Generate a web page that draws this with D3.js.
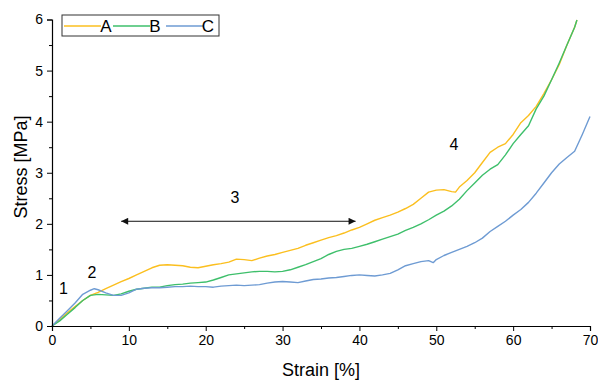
<!DOCTYPE html>
<html><head><meta charset="utf-8">
<script src="https://cdn.jsdelivr.net/npm/d3@7"></script>
<style>body{margin:0;background:#fff}svg{display:block;font-family:"Liberation Sans",Arial,sans-serif}</style>
</head><body><svg id="c" width="598" height="380"></svg>
<script>
const seriesNames = ["A","B","C"];
const seriesColors = ["#fbbf1f","#3ebf6b","#6e9bd3"];
const strainA = [0,1,2,3,4,5,6,7,8,9,10,11,12,13,14,15,16,17,18,19,20,21,22,23,24,25,26,27,28,29,30,31,32,33,34,35,36,37,38,39,40,41,42,43,44,45,46,47,48,49,50,51,52,52.5,53,54,55,56,57,58,59,60,61,62,63,64,65,66,67,68,68.3];
const stressA = [0,0.12,0.26,0.38,0.50,0.60,0.66,0.73,0.80,0.87,0.93,1.00,1.07,1.14,1.19,1.20,1.19,1.18,1.15,1.14,1.17,1.20,1.22,1.25,1.31,1.30,1.28,1.33,1.37,1.40,1.44,1.48,1.52,1.58,1.63,1.68,1.73,1.77,1.82,1.88,1.93,2.00,2.07,2.12,2.17,2.23,2.30,2.38,2.50,2.62,2.66,2.67,2.63,2.62,2.72,2.85,3.00,3.20,3.40,3.50,3.57,3.75,3.98,4.12,4.30,4.55,4.82,5.12,5.50,5.85,5.99];
const strainB = [0,1,2,3,4,5,6,7,8,9,10,11,12,13,14,15,16,17,18,19,20,21,22,23,24,25,26,27,28,29,30,31,32,33,34,35,36,37,38,39,40,41,42,43,44,45,46,47,48,49,50,51,52,53,54,55,56,57,58,59,60,61,62,63,64,65,66,67,68,68.3];
const stressB = [0,0.10,0.23,0.36,0.50,0.60,0.62,0.61,0.60,0.63,0.68,0.72,0.74,0.76,0.76,0.79,0.81,0.82,0.84,0.85,0.86,0.90,0.95,1.00,1.02,1.04,1.06,1.07,1.07,1.06,1.07,1.10,1.15,1.20,1.26,1.32,1.40,1.46,1.50,1.52,1.56,1.60,1.65,1.70,1.75,1.80,1.87,1.93,2.00,2.08,2.17,2.25,2.35,2.48,2.65,2.80,2.95,3.07,3.16,3.35,3.57,3.75,3.92,4.25,4.50,4.82,5.15,5.50,5.85,5.99];
const strainC = [0,1,2,3,4,5,5.5,6,7,8,9,10,11,12,13,14,15,16,17,18,19,20,21,22,23,24,25,26,27,28,29,30,31,32,33,34,35,36,37,38,39,40,41,42,43,44,45,46,47,48,49,49.6,50,51,52,53,54,55,56,57,58,59,60,61,62,63,64,65,66,67,68,69,70];
const stressC = [0,0.15,0.30,0.45,0.62,0.70,0.73,0.71,0.65,0.60,0.60,0.65,0.72,0.74,0.75,0.75,0.76,0.77,0.77,0.78,0.77,0.77,0.76,0.78,0.79,0.80,0.79,0.80,0.81,0.84,0.86,0.87,0.86,0.85,0.88,0.91,0.92,0.94,0.95,0.97,0.99,1.00,0.99,0.98,1.00,1.03,1.10,1.18,1.22,1.26,1.28,1.24,1.30,1.38,1.44,1.50,1.56,1.63,1.72,1.85,1.95,2.05,2.17,2.28,2.42,2.60,2.80,3.00,3.17,3.30,3.42,3.75,4.10];
const xTicks = [0,10,20,30,40,50,60,70];
const yTicks = [0,1,2,3,4,5,6];
const annLabels = ["1","2","3","4"];
const annX = [1.5,5.2,23.8,52.3];
const annY = [0.63,0.94,2.41,3.44];
const arrowX = [9,39.5];
const arrowY = 2.05;

const svg = d3.select("#c");
const x = d3.scaleLinear().domain([0,70]).range([52,590]);
const y = d3.scaleLinear().domain([0,6]).range([326,19.5]);

const defs = svg.append("defs");
defs.append("marker").attr("id","ah").attr("viewBox","0 0 10 10").attr("refX",10).attr("refY",5)
  .attr("markerWidth",9).attr("markerHeight",7).attr("markerUnits","userSpaceOnUse").attr("orient","auto-start-reverse")
  .append("path").attr("d","M0,0L10,5L0,10Z").attr("fill","#111");

const series = [[strainA,stressA],[strainB,stressB],[strainC,stressC]];
const line = d3.line().x(d=>x(d[0])).y(d=>y(d[1]));
series.forEach((s,i)=>{
  const pts = s[0].map((v,j)=>[v,s[1][j]]);
  svg.append("path").attr("d",line(pts)).attr("fill","none").attr("stroke",seriesColors[i]).attr("stroke-width",1.4).attr("stroke-linejoin","round");
});

// axes
const xAxis = svg.append("g").attr("transform","translate(0,326)")
  .call(d3.axisBottom(x).tickValues(xTicks).tickSize(5).tickPadding(4).tickFormat(d3.format("d")));
const xMinor = svg.append("g").attr("transform","translate(0,326)")
  .call(d3.axisBottom(x).tickValues(d3.range(5,70,10)).tickSize(3).tickFormat(""));
const yAxis = svg.append("g").attr("transform","translate(52,0)")
  .call(d3.axisLeft(y).tickValues(yTicks).tickSize(5).tickPadding(4).tickFormat(d3.format("d")));
const yMinor = svg.append("g").attr("transform","translate(52,0)")
  .call(d3.axisLeft(y).tickValues(d3.range(0.5,6,1)).tickSize(3).tickFormat(""));
[xAxis,xMinor,yAxis,yMinor].forEach(g=>{
  g.select(".domain").attr("stroke","#000").attr("stroke-width",1.2);
  g.selectAll(".tick line").attr("stroke","#000").attr("stroke-width",1);
  g.selectAll("text").attr("font-size",14).attr("fill","#000").attr("font-family","'Liberation Sans',Arial,sans-serif");
});
[xMinor,yMinor].forEach(g=>g.select(".domain").remove());

svg.append("text").attr("x",321).attr("y",376).attr("text-anchor","middle").attr("font-size",18).text("Strain [%]");
svg.append("text").attr("transform","translate(27,167) rotate(-90)").attr("text-anchor","middle").attr("font-size",18).text("Stress [MPa]");

// annotations
annLabels.forEach((t,i)=>{
  svg.append("text").attr("x",x(annX[i])).attr("y",y(annY[i])).attr("text-anchor","middle").attr("font-size",16).text(t);
});
svg.append("line").attr("x1",x(arrowX[0])).attr("x2",x(arrowX[1])).attr("y1",y(arrowY)).attr("y2",y(arrowY))
  .attr("stroke","#111").attr("stroke-width",1).attr("marker-start","url(#ah)").attr("marker-end","url(#ah)");

// legend
const lg = svg.append("g");
lg.append("rect").attr("x",62).attr("y",15).attr("width",157).attr("height",21).attr("fill","#fff").attr("stroke","#333").attr("stroke-width",1);
const lx = [64,113,166];
seriesNames.forEach((n,i)=>{
  lg.append("line").attr("x1",lx[i]).attr("x2",lx[i]+37).attr("y1",26).attr("y2",26).attr("stroke",seriesColors[i]).attr("stroke-width",1.4);
  lg.append("text").attr("x",lx[i]+42).attr("y",32).attr("font-size",17).attr("text-anchor","middle").text(n);
});
</script></body></html>
